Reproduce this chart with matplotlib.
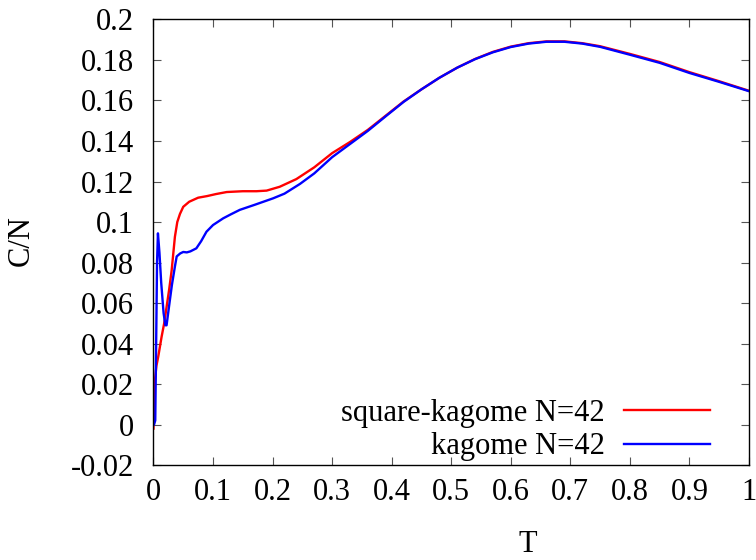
import matplotlib
matplotlib.use("Agg")
import matplotlib.pyplot as plt

plt.rcParams['font.family'] = ['Liberation Serif', 'DejaVu Serif']
plt.rcParams['font.size'] = 22

# square-kagome N=42
T_sq = [0, 0.001, 0.0025, 0.005, 0.008, 0.0137, 0.018, 0.022, 0.0265, 0.0305, 0.036,
        0.040, 0.0445, 0.05, 0.06, 0.075, 0.09, 0.105, 0.123, 0.15, 0.173, 0.19,
        0.212, 0.24, 0.27,
        0.30, 0.33, 0.36, 0.39, 0.42, 0.45, 0.48, 0.51, 0.54, 0.57, 0.60, 0.63,
        0.66, 0.69, 0.72, 0.75, 0.80, 0.85, 0.90, 0.95, 1.0]
C_sq = [-0.002, 0.008, 0.022, 0.029, 0.0335, 0.0434, 0.050, 0.058, 0.067, 0.076, 0.0927,
        0.100, 0.104, 0.1075, 0.110, 0.112, 0.1128, 0.1138, 0.1148, 0.1152, 0.1152, 0.1155,
        0.1174, 0.1212, 0.127,
        0.134, 0.1395, 0.1455, 0.1525, 0.1595, 0.1655, 0.1712, 0.1762, 0.1805, 0.1840, 0.1866, 0.1883,
        0.1892, 0.1892, 0.1883, 0.1868, 0.1830, 0.1790, 0.1740, 0.1695, 0.1648]

# kagome N=42
T_kg = [0.001, 0.003, 0.0045, 0.006, 0.0075, 0.010, 0.013, 0.017, 0.020, 0.022, 0.026,
        0.031, 0.036, 0.039, 0.045, 0.05, 0.056, 0.062, 0.072, 0.08, 0.089, 0.1, 0.117,
        0.13, 0.145, 0.17, 0.201, 0.22, 0.246, 0.27,
        0.30, 0.33, 0.36, 0.39, 0.42, 0.45, 0.48, 0.51, 0.54, 0.57, 0.60, 0.63,
        0.66, 0.69, 0.72, 0.75, 0.80, 0.85, 0.90, 0.95, 1.0]
C_kg = [0.0, 0.002, 0.04, 0.08, 0.0944, 0.085, 0.070, 0.055, 0.049, 0.049, 0.058,
        0.069, 0.078, 0.083, 0.0845, 0.0852, 0.0850, 0.0855, 0.087, 0.0905, 0.0952, 0.0985, 0.1018,
        0.1038, 0.106, 0.1085, 0.1117, 0.114, 0.1188, 0.124,
        0.132, 0.1385, 0.145, 0.1522, 0.1593, 0.1655, 0.1712, 0.1762, 0.1804, 0.1838, 0.1864, 0.1881,
        0.1890, 0.1890, 0.1881, 0.1865, 0.1826, 0.1786, 0.1736, 0.1692, 0.1646]

xticks = [0, 0.1, 0.2, 0.3, 0.4, 0.5, 0.6, 0.7, 0.8, 0.9, 1]
xticklabels = ['0', '0.1', '0.2', '0.3', '0.4', '0.5', '0.6', '0.7', '0.8', '0.9', '1']
yticks = [-0.02, 0, 0.02, 0.04, 0.06, 0.08, 0.1, 0.12, 0.14, 0.16, 0.18, 0.2]
yticklabels = ['-0.02', '0', '0.02', '0.04', '0.06', '0.08', '0.1', '0.12', '0.14', '0.16', '0.18', '0.2']

fig = plt.figure(figsize=(7.56, 5.6), dpi=100)
ax = fig.add_axes([0.203, 0.1696, 0.7877, 0.7956])

ax.plot(T_sq, C_sq, color='#ff0000', lw=1.7, label='square-kagome N=42')
ax.plot(T_kg, C_kg, color='#0000ff', lw=1.7, label='kagome N=42')

ax.set_xlim(0, 1)
ax.set_ylim(-0.02, 0.2)
ax.set_xticks(xticks)
ax.set_xticklabels(xticklabels)
ax.set_yticks(yticks)
ax.set_yticklabels(yticklabels)
ax.tick_params(direction='in', length=6, width=0.8, color='#555555',
               top=True, right=True)
ax.tick_params(axis='x', pad=9)
ax.tick_params(axis='y', pad=14)
for s in ax.spines.values():
    s.set_linewidth(1.0)

ax.set_xlabel('T')
ax.xaxis.set_label_coords(0.629, -0.145)
ax.set_ylabel('C/N')
ax.yaxis.set_label_coords(-0.197, 0.503)

ax.legend(loc='lower right', bbox_to_anchor=(0.96, -0.026), frameon=False,
          markerfirst=False, handlelength=2.8, handletextpad=0.65,
          labelspacing=0.15, borderpad=0)

fig.savefig('out.png', dpi=100)
